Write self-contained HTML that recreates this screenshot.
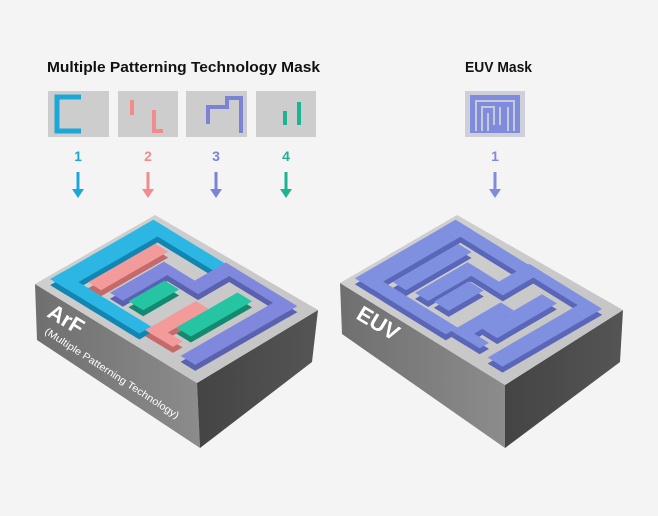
<!DOCTYPE html>
<html><head><meta charset="utf-8"><style>
html,body{margin:0;padding:0;background:#f4f4f4;}
svg{display:block;}
text{font-family:"Liberation Sans","DejaVu Sans",sans-serif;}
</style></head><body>
<svg width="658" height="516" viewBox="0 0 658 516" xmlns="http://www.w3.org/2000/svg">
<defs>
<linearGradient id="topg" x1="0" y1="0" x2="1" y2="1"><stop offset="0" stop-color="#d2d2d2"/><stop offset="1" stop-color="#c2c2c2"/></linearGradient>
<linearGradient id="leftg" x1="0" y1="0" x2="1" y2="0"><stop offset="0" stop-color="#6f6f6f"/><stop offset="1" stop-color="#8c8c8c"/></linearGradient>
<linearGradient id="rightg" x1="0" y1="0" x2="1" y2="0"><stop offset="0" stop-color="#444"/><stop offset="1" stop-color="#555"/></linearGradient>
<g id="cyanS">
<rect x="10" y="2" width="86" height="10"/><rect x="10" y="2" width="10" height="55"/><rect x="86" y="2" width="10" height="48"/>
</g>
<g id="pinkS">
<rect x="24" y="15" width="56" height="8"/><rect x="15" y="57" width="42" height="8"/><rect x="15" y="57" width="8" height="17"/>
</g>
<g id="tealS">
<rect x="28" y="37" width="30" height="9"/><rect x="30" y="65" width="51" height="9"/>
</g>
<g id="vioS">
<rect x="26" y="27" width="45" height="8"/><rect x="63" y="27" width="8" height="27"/><rect x="63" y="46" width="34" height="8"/><rect x="89" y="46" width="8" height="44"/><rect x="12" y="81" width="85" height="9"/>
</g>
</defs>
<rect width="658" height="516" fill="#f4f4f4"/>

<text x="47" y="72" font-size="15" font-weight="bold" fill="#111" textLength="273" lengthAdjust="spacingAndGlyphs">Multiple Patterning Technology Mask</text>
<text x="465" y="72" font-size="15" font-weight="bold" fill="#111" textLength="67" lengthAdjust="spacingAndGlyphs">EUV Mask</text>

<rect x="48" y="91" width="61" height="46" fill="#cdcdcd"/>
<path d="M81 97 H57 V131 H81" fill="none" stroke="#1ba7d8" stroke-width="5"/>
<rect x="118" y="91" width="60" height="46" fill="#cdcdcd"/>
<rect x="130" y="100" width="4" height="15" fill="#f08c8c"/>
<path d="M154 110 V131 H163" fill="none" stroke="#f08c8c" stroke-width="4"/>
<rect x="186" y="91" width="61" height="46" fill="#cdcdcd"/>
<path d="M208 124 V107 H227 V98 H241 V133" fill="none" stroke="#7b83d6" stroke-width="4"/>
<rect x="256" y="91" width="60" height="46" fill="#cdcdcd"/>
<rect x="283" y="111" width="4" height="14" fill="#1db394"/>
<rect x="297" y="102" width="4" height="23" fill="#1db394"/>
<rect x="465" y="91" width="60" height="46" fill="#cfcfd8"/>
<rect x="470" y="95" width="50" height="38" fill="#7f8bdc"/>
<path d="M476 131 V101 H514 V131 M482 131 V107 H494 V125 M488 113 V131 M500 107 V125 M508 107 V131" fill="none" stroke="#c8cad8" stroke-width="2"/>

<g font-size="14" font-weight="bold" text-anchor="middle">
<text x="78" y="161" fill="#1ba7d8">1</text>
<text x="148" y="161" fill="#f08c8c">2</text>
<text x="216" y="161" fill="#7b83d6">3</text>
<text x="286" y="161" fill="#1db394">4</text>
<text x="495" y="161" fill="#7f8bdc">1</text>
</g>
<g stroke-width="3">
<path d="M78 172 V192" stroke="#1ba7d8"/><path d="M72 189 L78 198 L84 189Z" fill="#1ba7d8"/>
<path d="M148 172 V192" stroke="#f08c8c"/><path d="M142 189 L148 198 L154 189Z" fill="#f08c8c"/>
<path d="M216 172 V192" stroke="#7b83d6"/><path d="M210 189 L216 198 L222 189Z" fill="#7b83d6"/>
<path d="M286 172 V192" stroke="#1db394"/><path d="M280 189 L286 198 L292 189Z" fill="#1db394"/>
<path d="M495 172 V192" stroke="#7f8bdc"/><path d="M489 189 L495 198 L501 189Z" fill="#7f8bdc"/>
</g>

<polygon points="35,284 197,383 200,448 37,340" fill="url(#leftg)"/>
<polygon points="197,383 318,310 312,362 200,448" fill="url(#rightg)"/>
<polygon points="35,284 155,215 318,310 197,383" fill="url(#topg)"/>
<g transform="translate(0,6) matrix(1.2,-0.69,1.62,0.99,35,284)">
<use href="#cyanS" fill="#1286b0"/><use href="#pinkS" fill="#c56a6a"/><use href="#tealS" fill="#138a70"/><use href="#vioS" fill="#5a62b0"/>
</g>
<g transform="matrix(1.2,-0.69,1.62,0.99,35,284)">
<use href="#cyanS" fill="#2cb6e4"/><use href="#pinkS" fill="#f39a9a"/><use href="#tealS" fill="#25c4a2"/><use href="#vioS" fill="#7f88dd"/>
</g>
<text transform="translate(46,316) rotate(31)" font-size="22" font-weight="bold" fill="#fff">ArF</text>
<text transform="translate(44,333) rotate(33)" font-size="10" fill="#fff" textLength="158" lengthAdjust="spacingAndGlyphs">(Multiple Patterning Technology)</text>

<polygon points="340,283 505,385 505,448 342,334" fill="url(#leftg)"/>
<polygon points="505,385 623,310 620,362 505,448" fill="url(#rightg)"/>
<polygon points="340,283 457,215 623,310 505,385" fill="url(#topg)"/>
<g transform="translate(0,6) matrix(1.17,-0.68,1.65,1.02,340,283)" fill="#5a66b8">
<use href="#cyanS"/><use href="#pinkS"/><use href="#tealS"/><use href="#vioS"/>
</g>
<g transform="matrix(1.17,-0.68,1.65,1.02,340,283)" fill="#8090e0">
<use href="#cyanS"/><use href="#pinkS"/><use href="#tealS"/><use href="#vioS"/>
</g>
<text transform="translate(355,318) rotate(31)" font-size="22" font-weight="bold" fill="#fff">EUV</text>
</svg>
</body></html>
